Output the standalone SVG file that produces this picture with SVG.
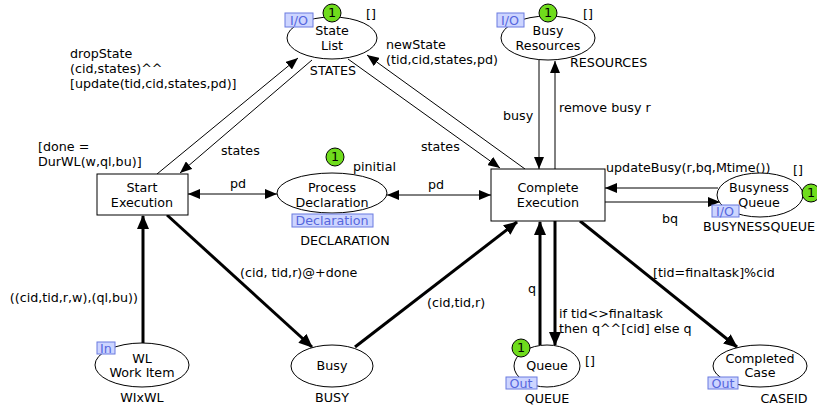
<svg xmlns="http://www.w3.org/2000/svg" width="817" height="409" viewBox="0 0 817 409">
<style>
text{font-family:"DejaVu Sans","Liberation Sans",sans-serif;font-size:12.7px;fill:#000}
.c{text-anchor:middle}
.r{text-anchor:end}
.pl{fill:#fff;stroke:#000;stroke-width:1}
.tr{fill:#fff;stroke:#000;stroke-width:1}
.a{stroke:#000;stroke-width:1;fill:none}
.t{stroke:#000;stroke-width:3;fill:none}
.tok{fill:#6fdc1c;stroke:#000;stroke-width:1}
.tag{fill:#cdd5ff;stroke:#6a7be0;stroke-width:1}
.tagt{fill:#5566dd;text-anchor:middle}
</style>
<defs>
<marker id="ah" markerUnits="userSpaceOnUse" markerWidth="12" markerHeight="10" refX="12" refY="5" orient="auto-start-reverse"><path d="M0,0 L12,5 L0,10 z" fill="#000"/></marker>
<marker id="ahT" markerUnits="userSpaceOnUse" markerWidth="14" markerHeight="12" refX="13" refY="6" orient="auto"><path d="M0,0 L14,6 L0,12 z" fill="#000"/></marker>
</defs>
<g id="connectors">
<line class="a" x1="157" y1="174" x2="298" y2="58" marker-end="url(#ah)"/>
<line class="a" x1="312" y1="60" x2="180" y2="173" marker-end="url(#ah)"/>
<line class="a" x1="348" y1="59" x2="500" y2="168" marker-end="url(#ah)"/>
<line class="a" x1="525" y1="169" x2="367" y2="55" marker-end="url(#ah)"/>
<line class="a" x1="539" y1="60" x2="539" y2="169" marker-end="url(#ah)"/>
<line class="a" x1="555" y1="169" x2="555" y2="61" marker-end="url(#ah)"/>
<line class="a" x1="188" y1="194" x2="277" y2="194" marker-start="url(#ah)" marker-end="url(#ah)"/>
<line class="a" x1="387" y1="195" x2="491" y2="195" marker-start="url(#ah)" marker-end="url(#ah)"/>
<line class="a" x1="718" y1="188" x2="605" y2="188" marker-end="url(#ah)"/>
<line class="a" x1="605" y1="202" x2="720" y2="202" marker-end="url(#ah)"/>
<line class="t" x1="143" y1="343" x2="143" y2="216" marker-end="url(#ahT)"/>
<line class="t" x1="167" y1="215" x2="312" y2="347" marker-end="url(#ahT)"/>
<line class="t" x1="355" y1="347" x2="517" y2="222" marker-end="url(#ahT)"/>
<line class="t" x1="540" y1="345" x2="540" y2="222" marker-end="url(#ahT)"/>
<line class="t" x1="555" y1="221" x2="555" y2="345" marker-end="url(#ahT)"/>
<line class="t" x1="580" y1="221" x2="737" y2="347" marker-end="url(#ahT)"/>
<text x="70" y="58">dropState</text>
<text x="70" y="73">(cid,states)^^</text>
<text x="70" y="88">[update(tid,cid,states,pd)]</text>
<text x="221" y="155">states</text>
<text x="386" y="49">newState</text>
<text x="386" y="64">(tid,cid,states,pd)</text>
<text x="421" y="151">states</text>
<text x="503" y="120">busy</text>
<text x="559" y="112">remove busy r</text>
<text x="230" y="188">pd</text>
<text x="428" y="189">pd</text>
<text x="606" y="172">updateBusy(r,bq,Mtime())</text>
<text x="662" y="223">bq</text>
<text class="r" x="138" y="302">((cid,tid,r,w),(ql,bu))</text>
<text x="240" y="277">(cid, tid,r)@+done</text>
<text x="427" y="307">(cid,tid,r)</text>
<text x="528" y="293">q</text>
<text x="559" y="318">if tid&lt;&gt;finaltask</text>
<text x="559" y="333">then q^^[cid] else q</text>
<text x="653" y="277">[tid=finaltask]%cid</text>
</g>
<g id="state-list">
<ellipse class="pl" cx="332" cy="38" rx="45" ry="21"/>
<text class="c" x="332" y="35">State</text>
<text class="c" x="332" y="50">List</text>
<circle class="tok" cx="332" cy="13" r="9"/>
<text class="c" x="332" y="17">1</text>
<text x="366" y="18">[]</text>
<rect class="tag" x="285" y="13" width="28" height="14"/>
<text class="tagt" x="299" y="25">I/O</text>
<text class="c" x="333" y="75">STATES</text>
</g>
<g id="busy-resources">
<ellipse class="pl" cx="548" cy="38" rx="47" ry="22"/>
<text class="c" x="548" y="35">Busy</text>
<text class="c" x="548" y="50">Resources</text>
<circle class="tok" cx="548" cy="13" r="9"/>
<text class="c" x="548" y="17">1</text>
<text x="583" y="18">[]</text>
<rect class="tag" x="497" y="13" width="27" height="14"/>
<text class="tagt" x="510" y="25">I/O</text>
<text x="570" y="67">RESOURCES</text>
</g>
<g id="start-execution">
<rect class="tr" x="97" y="174" width="91" height="41"/>
<text class="c" x="142" y="192">Start</text>
<text class="c" x="142" y="207">Execution</text>
<text x="38" y="151">[done =</text>
<text x="38" y="166">DurWL(w,ql,bu)]</text>
</g>
<g id="process-declaration">
<ellipse class="pl" cx="332" cy="193" rx="55" ry="20"/>
<text class="c" x="332" y="192">Process</text>
<text class="c" x="332" y="207">Declaration</text>
<circle class="tok" cx="335" cy="157" r="9"/>
<text class="c" x="335" y="161">1</text>
<text x="353" y="171">pinitial</text>
<rect class="tag" x="292" y="214" width="81" height="13"/>
<text class="tagt" x="332" y="225">Declaration</text>
<text class="c" x="345" y="245">DECLARATION</text>
</g>
<g id="complete-execution">
<rect class="tr" x="491" y="169" width="114" height="52"/>
<text class="c" x="548" y="192">Complete</text>
<text class="c" x="548" y="207">Execution</text>
</g>
<g id="busyness-queue">
<ellipse class="pl" cx="760" cy="195" rx="43" ry="22"/>
<text class="c" x="759" y="192">Busyness</text>
<text class="c" x="759" y="207">Queue</text>
<circle class="tok" cx="811" cy="193" r="9"/>
<text class="c" x="811" y="197">1</text>
<text x="793" y="174">[]</text>
<rect class="tag" x="712" y="205" width="27" height="12"/>
<text class="tagt" x="725" y="216">I/O</text>
<text x="703" y="231">BUSYNESSQUEUE</text>
</g>
<g id="wl-work-item">
<ellipse class="pl" cx="142" cy="365" rx="47" ry="22"/>
<text class="c" x="142" y="363">WL</text>
<text class="c" x="142" y="377">Work Item</text>
<rect class="tag" x="97" y="342" width="18" height="12"/>
<text class="tagt" x="106" y="353">In</text>
<text class="c" x="142" y="402">WIxWL</text>
</g>
<g id="busy">
<ellipse class="pl" cx="332" cy="366" rx="41" ry="21"/>
<text class="c" x="332" y="370">Busy</text>
<text class="c" x="332" y="402">BUSY</text>
</g>
<g id="queue">
<ellipse class="pl" cx="547" cy="366" rx="33" ry="21"/>
<text class="c" x="547" y="370">Queue</text>
<circle class="tok" cx="521" cy="348" r="9"/>
<text class="c" x="521" y="352">1</text>
<text x="585" y="365">[]</text>
<rect class="tag" x="506" y="377" width="31" height="12"/>
<text class="tagt" x="521" y="388">Out</text>
<text class="c" x="547" y="403">QUEUE</text>
</g>
<g id="completed-case">
<ellipse class="pl" cx="760" cy="366" rx="47" ry="21"/>
<text class="c" x="760" y="363">Completed</text>
<text class="c" x="760" y="377">Case</text>
<rect class="tag" x="708" y="377" width="30" height="12"/>
<text class="tagt" x="723" y="388">Out</text>
<text class="c" x="784" y="403">CASEID</text>
</g>
</svg>
